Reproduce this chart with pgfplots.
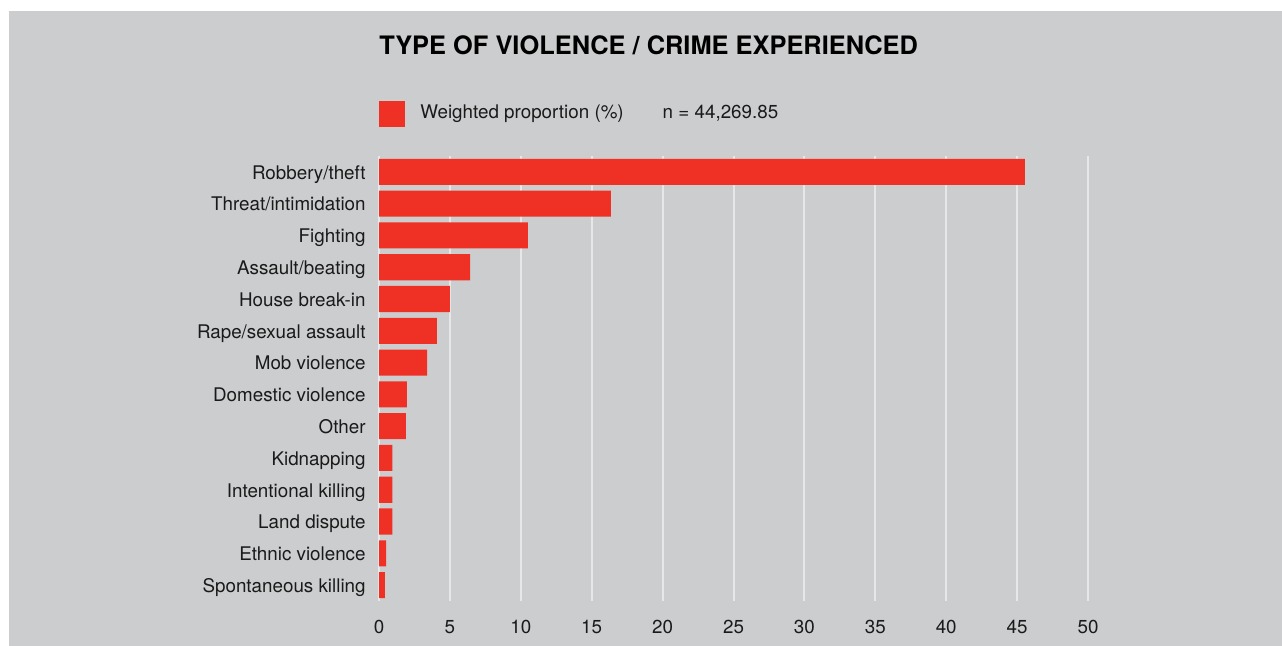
\documentclass[border=0pt]{standalone}
\usepackage{fontspec}
\setmainfont{TeX Gyre Heros}
\usepackage{pgfplots}
\pgfplotsset{compat=1.18}
\definecolor{bgray}{HTML}{CCCDCF}
\definecolor{barred}{HTML}{EE3124}
\definecolor{gridc}{HTML}{E6E7E9}
\definecolor{txt}{HTML}{1A1A1A}
\begin{document}
\begin{tikzpicture}[x=1pt,y=1pt]
\fill[white] (0,0) rectangle (641,323);
\fill[bgray] (4.5,0) rectangle (641,317.5);
\node[anchor=base west, inner sep=0pt, font=\fontsize{12.7}{15}\selectfont\bfseries] at (189.5,295.6) {TYPE OF VIOLENCE / CRIME EXPERIENCED};
\begin{axis}[
 at={(189.5pt,22.5pt)}, anchor=south west,
 scale only axis, width=354.5pt, height=222.5pt,
 xmin=0, xmax=50, ymin=-0.5, ymax=13.5, y dir=reverse,
 xbar, bar width=0.82, bar shift=0pt,
 xtick={0,5,...,50}, ytick={0,...,13},
 yticklabels={Robbery/theft,Threat/intimidation,Fighting,Assault/beating,House break-in,Rape/sexual assault,Mob violence,Domestic violence,Other,Kidnapping,Intentional killing,Land dispute,Ethnic violence,Spontaneous killing},
 axis line style={draw=none}, major tick length=0pt,
 xmajorgrids, major grid style={gridc, line width=1pt},
 tick label style={font=\fontsize{9.4}{11}\selectfont, text=txt},
 /pgf/number format/assume math mode=true,
 yticklabel style={inner sep=0pt, text height=0pt, text depth=0pt, xshift=-6.5pt, yshift=-3.65pt},
 xticklabel style={inner sep=0pt, yshift=-9.5pt},
 legend style={at={(0,1)}, anchor=south west, yshift=14.5pt, draw=none, fill=none,
   inner sep=0pt, column sep=0pt, nodes={inner sep=0pt, text=txt},
   font=\fontsize{9.4}{11}\selectfont},
 legend cell align=left,
 legend image code/.code={\fill[barred] (0pt,-6.5pt) rectangle (13pt,6.5pt);},
]
\addplot[fill=barred, draw=none] coordinates {
 (45.55,0) (16.35,1) (10.5,2) (6.42,3) (5.0,4) (4.09,5) (3.39,6) (1.97,7) (1.9,8) (0.95,9) (0.95,10) (0.95,11) (0.5,12) (0.42,13)
};
\addlegendentry{\hspace{7.5pt}Weighted proportion (\%)\hspace{19.5pt}n = 44,269.85}
\end{axis}
\end{tikzpicture}
\end{document}
